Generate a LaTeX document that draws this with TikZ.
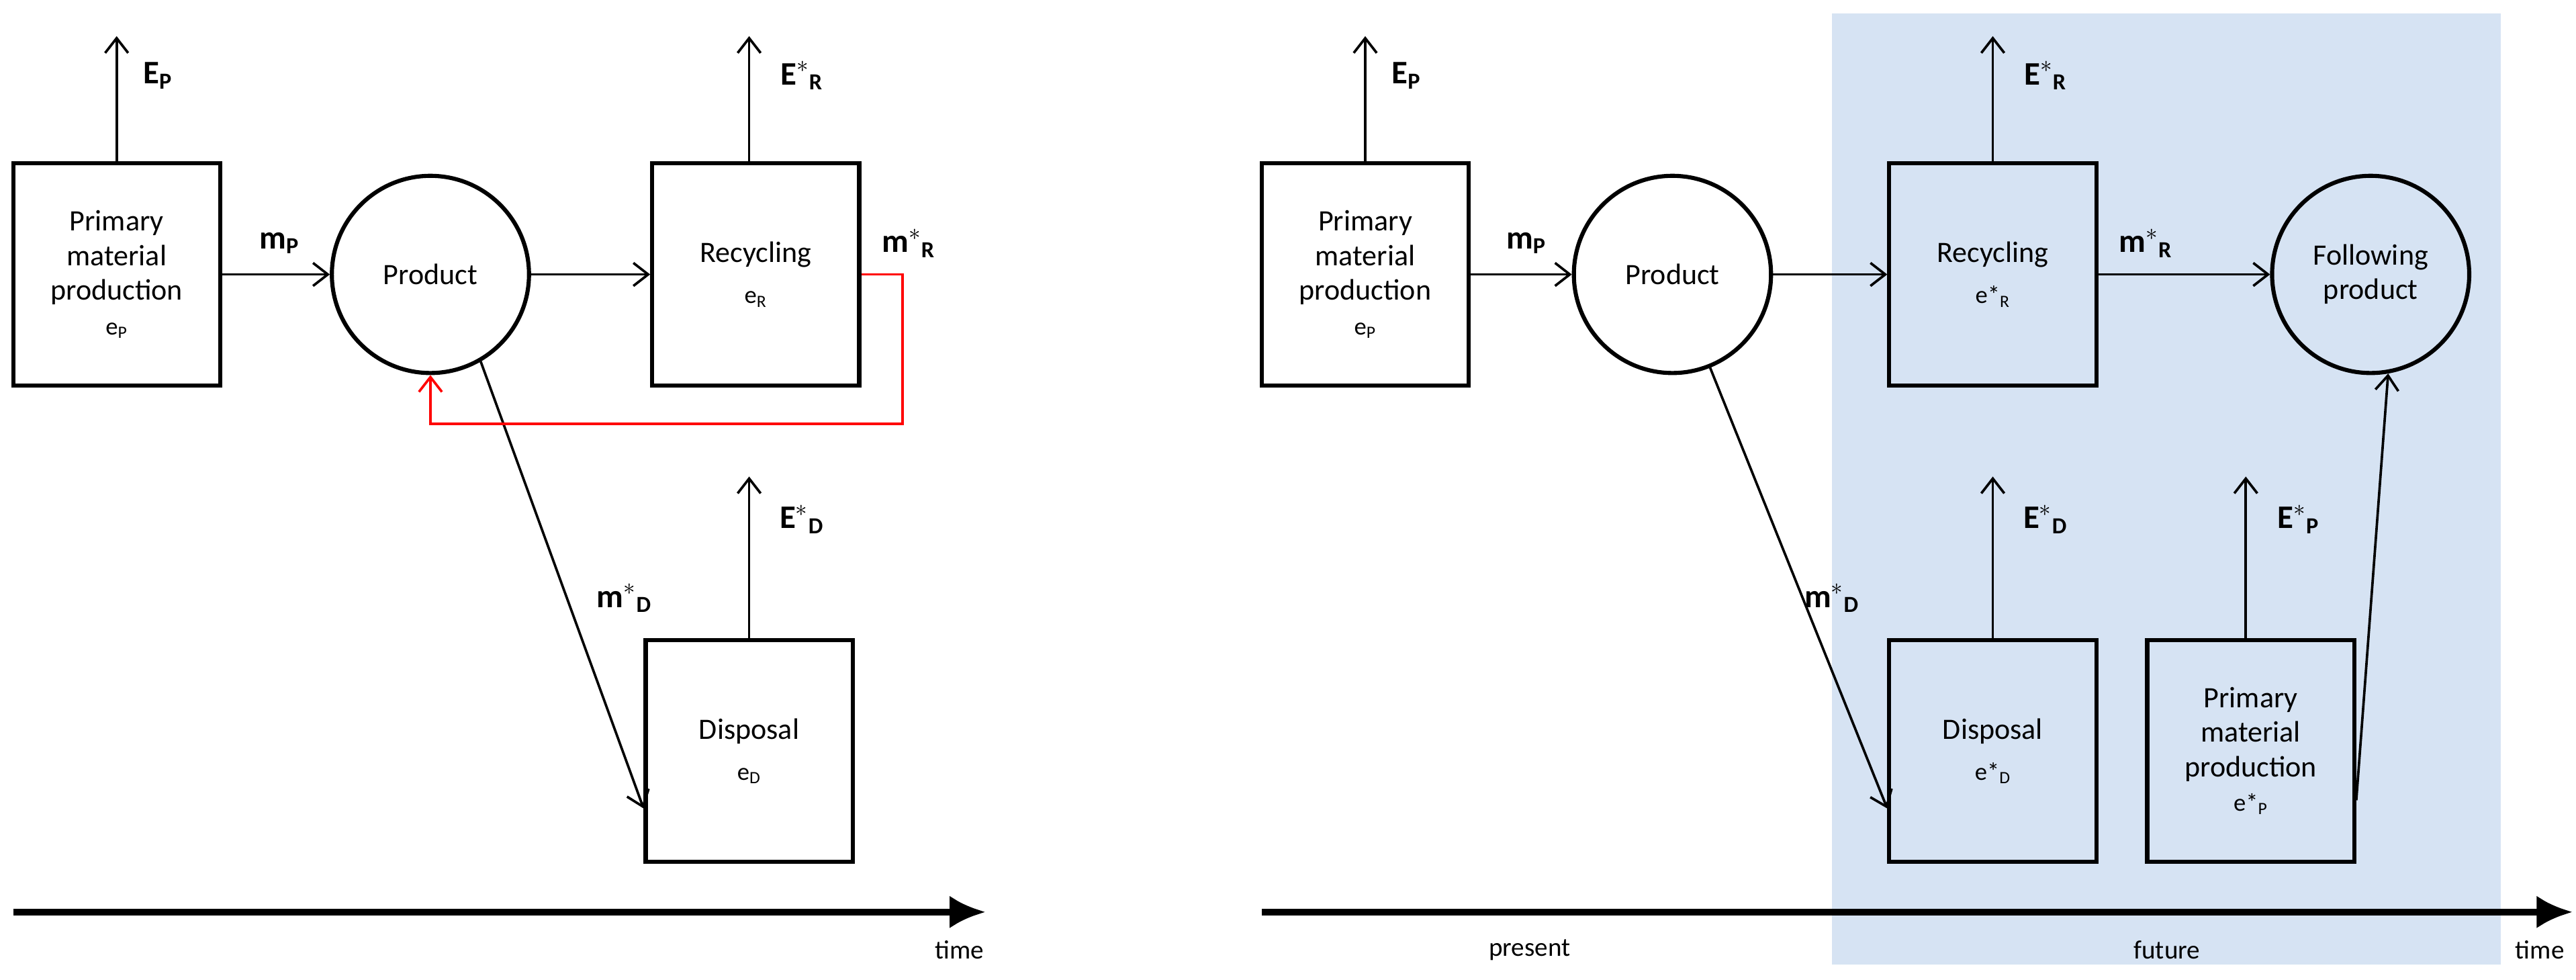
\documentclass[tikz,border=0pt]{standalone}
\usepackage{fontspec}
\setmainfont{Carlito}
\usetikzlibrary{arrows.meta}
\tikzset{every picture/.style={line width=1.5pt}}
\tikzset{
  box/.style={draw,line width=2.5pt,minimum width=126pt,minimum height=135pt,align=center,inner sep=2pt,font=\fontsize{18}{21}\selectfont},
  prod/.style={draw,circle,line width=2.5pt,minimum size=120pt,align=center,font=\fontsize{18}{21}\selectfont},
  flow/.style={-{Straight Barb[length=9pt,width=14pt]},line width=1.5pt},
  lab/.style={font=\bfseries\fontsize{20}{22}\selectfont},
  axis/.style={-{Latex[length=22pt,width=20pt]},line width=4pt},
  small/.style={font=\fontsize{16}{18}\selectfont}
}
\begin{document}
\begin{tikzpicture}[x=1pt,y=-1pt]
\useasboundingbox (0,0) rectangle (1568,596);
% future region
\fill[fill={rgb,255:red,214;green,227;blue,243}] (1115,8) rectangle (1522,587);

% left diagram
\node[box] (pmp) at (71,167) {Primary\\material\\production\\{\fontsize{15}{18}\selectfont e$_\mathrm{P}$}};
\node[prod] (prd) at (262,167) {Product};
\node[box] (rec) at (460,167) {Recycling\\[4pt]{\fontsize{15}{18}\selectfont e$_\mathrm{R}$}};
\node[box] (dis) at (456,457) {Disposal\\[4pt]{\fontsize{15}{18}\selectfont e$_\mathrm{D}$}};
\coordinate (ep) at (71,22);
\coordinate (er) at (456,22);
\coordinate (ed) at (456,290);
\draw[flow] (pmp.north) -- (ep);
\draw[flow] (rec.north -| er) -- (er);
\draw[flow] (dis.north) -- (ed);
\draw[flow] (pmp.east) -- (prd.west);
\draw[flow] (prd.east) -- (rec.west);
\draw[flow] (prd.-60) -- ([yshift=-35pt]dis.west);
\draw[flow,red] (rec.east) -- ++(25,0) |- (262,258) -- (prd.south);
\node[lab] at (96,46) {E$_\mathbf{P}$};
\node[lab] at (488,46) {E$^*{}_\mathbf{R}$};
\node[lab] at (488,316) {E$^*{}_\mathbf{D}$};
\node[lab] at (170,148) {m$_\mathbf{P}$};
\node[lab] at (553,148) {m$^*{}_\mathbf{R}$};
\node[lab] at (380,364) {m$^*{}_\mathbf{D}$};
\coordinate (t0) at (8,555);
\coordinate (t1) at (600,555);
\draw[axis] (t0) -- (t1);
\node[small] at (584,578) {time};

% right diagram
\node[box] (pmpa) at (831,167) {Primary\\material\\production\\{\fontsize{15}{18}\selectfont e$_\mathrm{P}$}};
\node[prod] (prda) at (1018,167) {Product};
\node[box] (reca) at (1213,167) {Recycling\\[4pt]{\fontsize{15}{18}\selectfont e*$_\mathrm{R}$}};
\node[prod] (fol) at (1443,167) {Following\\product};
\node[box] (disa) at (1213,457) {Disposal\\[4pt]{\fontsize{15}{18}\selectfont e*$_\mathrm{D}$}};
\node[box] (pmpb) at (1370,457) {Primary\\material\\production\\{\fontsize{15}{18}\selectfont e*$_\mathrm{P}$}};
\coordinate (epa) at (831,22);
\coordinate (era) at (1213,22);
\coordinate (eda) at (1213,290);
\coordinate (epb) at (1367,290);
\draw[flow] (pmpa.north) -- (epa);
\draw[flow] (reca.north) -- (era);
\draw[flow] (disa.north) -- (eda);
\draw[flow] (pmpb.north -| epb) -- (epb);
\draw[flow] (pmpa.east) -- (prda.west);
\draw[flow] (prda.east) -- (reca.west);
\draw[flow] (reca.east) -- (fol.west);
\draw[flow] (prda.-68) -- ([yshift=-35pt]disa.west);
\draw[flow] ([yshift=-30pt]pmpb.east) -- (fol.-80);
\node[lab] at (856,46) {E$_\mathbf{P}$};
\node[lab] at (1245,46) {E$^*{}_\mathbf{R}$};
\node[lab] at (1245,316) {E$^*{}_\mathbf{D}$};
\node[lab] at (1399,316) {E$^*{}_\mathbf{P}$};
\node[lab] at (929,148) {m$_\mathbf{P}$};
\node[lab] at (1306,148) {m$^*{}_\mathbf{R}$};
\node[lab] at (1115,364) {m$^*{}_\mathbf{D}$};
\coordinate (t2) at (768,555);
\coordinate (t3) at (1566,555);
\draw[axis] (t2) -- (t3);
\node[small] at (1546,578) {time};
\node[small] at (931,578) {present};
\node[small] at (1319,578) {future};
\end{tikzpicture}
\end{document}
